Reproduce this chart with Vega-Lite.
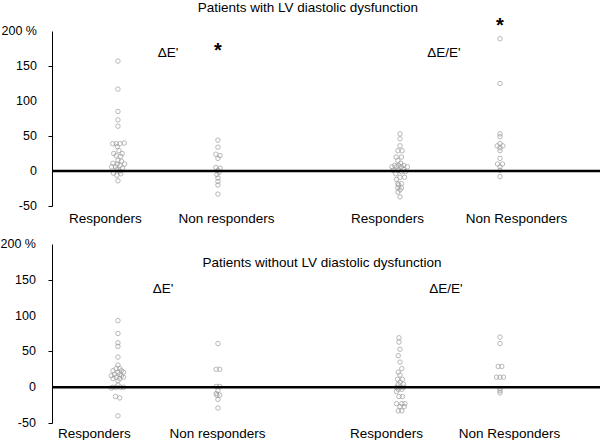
{
  "$schema": "https://vega.github.io/schema/vega-lite/v6.json",
  "padding": 0,
  "background": "white",
  "config": {
    "view": {"stroke": null},
    "font": "Liberation Sans",
    "axis": {"labelFont": "Liberation Sans", "grid": false},
    "text": {"font": "Liberation Sans"}
  },
  "datasets": {
    "ticks": [
      {"t": -50, "s": "-50"}, {"t": 0, "s": "0"}, {"t": 50, "s": "50"},
      {"t": 100, "s": "100"}, {"t": 150, "s": "150"}, {"t": 200, "s": "200 %"}
    ],
    "with_dE": [
      {"group": "Responders", "value": 157, "lane": 0}, {"group": "Responders", "value": 117, "lane": 0},
      {"group": "Responders", "value": 85, "lane": 0}, {"group": "Responders", "value": 73, "lane": 0},
      {"group": "Responders", "value": 64, "lane": 0}, {"group": "Responders", "value": 40, "lane": 1.8},
      {"group": "Responders", "value": 39, "lane": -1.5}, {"group": "Responders", "value": 39, "lane": -0.5},
      {"group": "Responders", "value": 39, "lane": 0.6}, {"group": "Responders", "value": 35, "lane": -0.2},
      {"group": "Responders", "value": 29, "lane": 0.3}, {"group": "Responders", "value": 25, "lane": -1.2},
      {"group": "Responders", "value": 25, "lane": 1.2}, {"group": "Responders", "value": 22, "lane": -0.5},
      {"group": "Responders", "value": 21, "lane": 0.8}, {"group": "Responders", "value": 15, "lane": 0},
      {"group": "Responders", "value": 14, "lane": 1}, {"group": "Responders", "value": 11, "lane": -1.4},
      {"group": "Responders", "value": 10, "lane": -0.2}, {"group": "Responders", "value": 10, "lane": 1.9},
      {"group": "Responders", "value": 8, "lane": 0.6}, {"group": "Responders", "value": 6, "lane": -1.8},
      {"group": "Responders", "value": 6, "lane": -0.7}, {"group": "Responders", "value": 4, "lane": 1.3},
      {"group": "Responders", "value": 2, "lane": -0.3}, {"group": "Responders", "value": 0, "lane": 0.5},
      {"group": "Responders", "value": -3, "lane": -1.3}, {"group": "Responders", "value": -4, "lane": 0.8},
      {"group": "Responders", "value": -6, "lane": -0.3}, {"group": "Responders", "value": -14, "lane": 0},
      {"group": "Non responders", "value": 44, "lane": 0}, {"group": "Non responders", "value": 34, "lane": 0},
      {"group": "Non responders", "value": 24, "lane": -0.6}, {"group": "Non responders", "value": 22, "lane": 0.6},
      {"group": "Non responders", "value": 18, "lane": 0}, {"group": "Non responders", "value": 5, "lane": -0.6},
      {"group": "Non responders", "value": 4, "lane": 0.6}, {"group": "Non responders", "value": 1, "lane": 0},
      {"group": "Non responders", "value": -2, "lane": 0.3}, {"group": "Non responders", "value": -5, "lane": -0.3},
      {"group": "Non responders", "value": -10, "lane": 0}, {"group": "Non responders", "value": -15, "lane": 0},
      {"group": "Non responders", "value": -20, "lane": 0}, {"group": "Non responders", "value": -33, "lane": 0}
    ],
    "with_dEE": [
      {"group": "Responders", "value": 53, "lane": 0}, {"group": "Responders", "value": 46, "lane": 0},
      {"group": "Responders", "value": 36, "lane": 0}, {"group": "Responders", "value": 29, "lane": -0.6},
      {"group": "Responders", "value": 29, "lane": 0.6}, {"group": "Responders", "value": 20, "lane": -1.1},
      {"group": "Responders", "value": 20, "lane": 0.4}, {"group": "Responders", "value": 15, "lane": -0.6},
      {"group": "Responders", "value": 11, "lane": 0.2}, {"group": "Responders", "value": 8, "lane": -1.5},
      {"group": "Responders", "value": 8, "lane": -0.4}, {"group": "Responders", "value": 8, "lane": 1.1},
      {"group": "Responders", "value": 6, "lane": -2.3}, {"group": "Responders", "value": 6, "lane": -1.0},
      {"group": "Responders", "value": 6, "lane": 0.4}, {"group": "Responders", "value": 6, "lane": 2.1},
      {"group": "Responders", "value": 3, "lane": 0.9}, {"group": "Responders", "value": 1, "lane": -2},
      {"group": "Responders", "value": 1, "lane": -0.6}, {"group": "Responders", "value": -1, "lane": 0.4},
      {"group": "Responders", "value": -1, "lane": 1.5}, {"group": "Responders", "value": -4, "lane": -1.2},
      {"group": "Responders", "value": -9, "lane": 0}, {"group": "Responders", "value": -9, "lane": 1.3},
      {"group": "Responders", "value": -12, "lane": -1}, {"group": "Responders", "value": -18, "lane": -0.6},
      {"group": "Responders", "value": -18, "lane": 0.4}, {"group": "Responders", "value": -20, "lane": -0.4},
      {"group": "Responders", "value": -24, "lane": 0.4}, {"group": "Responders", "value": -24, "lane": -0.6},
      {"group": "Responders", "value": -27, "lane": 0}, {"group": "Responders", "value": -30, "lane": -0.6},
      {"group": "Responders", "value": -37, "lane": 0},
      {"group": "Non Responders", "value": 189, "lane": 0}, {"group": "Non Responders", "value": 125, "lane": 0},
      {"group": "Non Responders", "value": 53, "lane": 0}, {"group": "Non Responders", "value": 49, "lane": 0},
      {"group": "Non Responders", "value": 39, "lane": 0}, {"group": "Non Responders", "value": 36, "lane": -0.8},
      {"group": "Non Responders", "value": 36, "lane": 0.8}, {"group": "Non Responders", "value": 33, "lane": 0},
      {"group": "Non Responders", "value": 29, "lane": 0}, {"group": "Non Responders", "value": 18, "lane": 0},
      {"group": "Non Responders", "value": 10, "lane": -0.7}, {"group": "Non Responders", "value": 10, "lane": 0.7},
      {"group": "Non Responders", "value": 6, "lane": 0}, {"group": "Non Responders", "value": 1, "lane": 0},
      {"group": "Non Responders", "value": -8, "lane": 0}
    ],
    "without_dE": [
      {"group": "Responders", "value": 93, "lane": 0}, {"group": "Responders", "value": 75, "lane": 0},
      {"group": "Responders", "value": 62, "lane": 0}, {"group": "Responders", "value": 57, "lane": 0},
      {"group": "Responders", "value": 42, "lane": 0}, {"group": "Responders", "value": 31, "lane": 0},
      {"group": "Responders", "value": 26, "lane": -0.5}, {"group": "Responders", "value": 26, "lane": 0.5},
      {"group": "Responders", "value": 23, "lane": -1.4}, {"group": "Responders", "value": 23, "lane": 1},
      {"group": "Responders", "value": 21, "lane": 0}, {"group": "Responders", "value": 21, "lane": 1.6},
      {"group": "Responders", "value": 18, "lane": -1}, {"group": "Responders", "value": 18, "lane": 0.5},
      {"group": "Responders", "value": 16, "lane": -1.9}, {"group": "Responders", "value": 16, "lane": 1},
      {"group": "Responders", "value": 14, "lane": -0.5}, {"group": "Responders", "value": 14, "lane": 1.6},
      {"group": "Responders", "value": 12, "lane": -1.4}, {"group": "Responders", "value": 12, "lane": 0.5},
      {"group": "Responders", "value": 9, "lane": 0}, {"group": "Responders", "value": 3, "lane": 0},
      {"group": "Responders", "value": 0, "lane": -1.4}, {"group": "Responders", "value": 0, "lane": -0.5},
      {"group": "Responders", "value": 0, "lane": 0.7}, {"group": "Responders", "value": 0, "lane": 1.6},
      {"group": "Responders", "value": -1, "lane": -1.9}, {"group": "Responders", "value": -13, "lane": -0.7},
      {"group": "Responders", "value": -15, "lane": 0.5}, {"group": "Responders", "value": -40, "lane": 0},
      {"group": "Non responders", "value": 61, "lane": 0}, {"group": "Non responders", "value": 25, "lane": -0.5},
      {"group": "Non responders", "value": 25, "lane": 0.5}, {"group": "Non responders", "value": 1, "lane": -0.5},
      {"group": "Non responders", "value": 1, "lane": 0.5}, {"group": "Non responders", "value": -5, "lane": 0},
      {"group": "Non responders", "value": -9, "lane": -0.5}, {"group": "Non responders", "value": -11, "lane": 0.5},
      {"group": "Non responders", "value": -11, "lane": -0.3}, {"group": "Non responders", "value": -17, "lane": 0},
      {"group": "Non responders", "value": -29, "lane": 0}
    ],
    "without_dEE": [
      {"group": "Responders", "value": 69, "lane": -0.3}, {"group": "Responders", "value": 63, "lane": -0.3},
      {"group": "Responders", "value": 53, "lane": 0}, {"group": "Responders", "value": 44, "lane": -0.5},
      {"group": "Responders", "value": 35, "lane": 0}, {"group": "Responders", "value": 26, "lane": 0.5},
      {"group": "Responders", "value": 21, "lane": -0.5}, {"group": "Responders", "value": 17, "lane": 0},
      {"group": "Responders", "value": 11, "lane": -0.7}, {"group": "Responders", "value": 11, "lane": 0.7},
      {"group": "Responders", "value": 7, "lane": 0}, {"group": "Responders", "value": 4, "lane": -0.5},
      {"group": "Responders", "value": 4, "lane": 1}, {"group": "Responders", "value": 0, "lane": -1},
      {"group": "Responders", "value": 0, "lane": 0}, {"group": "Responders", "value": 0, "lane": 1},
      {"group": "Responders", "value": -3, "lane": -0.5}, {"group": "Responders", "value": -3, "lane": 0.5},
      {"group": "Responders", "value": -6, "lane": -1}, {"group": "Responders", "value": -13, "lane": -0.3},
      {"group": "Responders", "value": -13, "lane": 0.7}, {"group": "Responders", "value": -23, "lane": -1},
      {"group": "Responders", "value": -23, "lane": 0.5}, {"group": "Responders", "value": -23, "lane": 1.4},
      {"group": "Responders", "value": -27, "lane": 0}, {"group": "Responders", "value": -27, "lane": 1.2},
      {"group": "Responders", "value": -33, "lane": -0.5}, {"group": "Responders", "value": -33, "lane": 0.5},
      {"group": "Non Responders", "value": 70, "lane": 0}, {"group": "Non Responders", "value": 61, "lane": 0},
      {"group": "Non Responders", "value": 29, "lane": -0.5}, {"group": "Non Responders", "value": 29, "lane": 0.5},
      {"group": "Non Responders", "value": 14, "lane": -1}, {"group": "Non Responders", "value": 14, "lane": 0},
      {"group": "Non Responders", "value": 14, "lane": 1}, {"group": "Non Responders", "value": -2, "lane": 0},
      {"group": "Non Responders", "value": -5, "lane": 0}, {"group": "Non Responders", "value": -8, "lane": 0}
    ]
  },
  "spacing": 13,
  "vconcat": [
    {
      "spacing": 0,
      "bounds": "flush",
      "hconcat": [
        {
          "width": 257, "height": 175,
          "layer": [
            {
              "data": {"name": "with_dE"},
              "mark": {"type": "point", "shape": "circle", "filled": false, "size": 20, "stroke": "#9a9a9a", "strokeWidth": 1},
              "encoding": {
                "x": {"field": "group", "type": "nominal", "scale": {"type": "point", "domain": ["Responders", "Non responders"], "padding": 0.785, "align": 0.42},
                      "axis": {"title": null, "domain": false, "ticks": false, "labelAngle": 0, "labelFontSize": 13.5, "labelColor": "black", "labelPadding": 5,
                               "labelOffset": {"condition": {"test": "datum.value == 'Responders'", "value": -13}, "value": 8}}},
                "xOffset": {"field": "lane", "type": "quantitative", "scale": {"domain": [-4, 4], "range": [-14, 14]}},
                "y": {"field": "value", "type": "quantitative", "scale": {"domain": [-50, 200], "nice": false, "zero": false},
                      "axis": {"title": null, "values": [-50, 0, 50, 100, 150, 200], "labels": false, "domainColor": "black", "tickColor": "black", "tickSize": 4, "minExtent": 51, "maxExtent": 51}}
              }
            },
            {"data": {"name": "ticks"}, "mark": {"type": "text", "align": "right", "baseline": "middle", "fontSize": 12.5, "color": "black", "dx": -81},
             "encoding": {"x": {"datum": "Responders", "type": "nominal"}, "y": {"field": "t", "type": "quantitative"}, "text": {"field": "s"}}},
            {"data": {"values": [{}]}, "mark": {"type": "rule", "color": "black", "strokeWidth": 2.5}, "encoding": {"y": {"datum": 0, "type": "quantitative"}}},
            {"data": {"values": [{}]}, "mark": {"type": "text", "text": "ΔE'", "fontSize": 13.5, "color": "black", "dx": -50},
             "encoding": {"x": {"datum": "Non responders", "type": "nominal"}, "y": {"datum": 169, "type": "quantitative"}}},
            {"data": {"values": [{}]}, "mark": {"type": "text", "text": "*", "fontSize": 20, "fontWeight": "bold", "color": "black", "baseline": "top"},
             "encoding": {"x": {"datum": "Non responders", "type": "nominal"}, "y": {"datum": 186, "type": "quantitative"}}},
            {"data": {"values": [{}]}, "mark": {"type": "text", "text": "Patients with LV diastolic dysfunction", "fontSize": 13.5, "color": "black", "dx": 90},
             "encoding": {"x": {"datum": "Non responders", "type": "nominal"}, "y": {"datum": 233, "type": "quantitative"}}}
          ]
        },
        {
          "width": 292, "height": 175,
          "layer": [
            {
              "data": {"name": "with_dEE"},
              "mark": {"type": "point", "shape": "circle", "filled": false, "size": 20, "stroke": "#9a9a9a", "strokeWidth": 1},
              "encoding": {
                "x": {"field": "group", "type": "nominal", "scale": {"type": "point", "domain": ["Responders", "Non Responders"], "padding": 0.96, "align": 0.474},
                      "axis": {"title": null, "domain": false, "ticks": false, "labelAngle": 0, "labelFontSize": 13.5, "labelColor": "black", "labelPadding": 5,
                               "labelOffset": {"condition": {"test": "datum.value == 'Responders'", "value": -13}, "value": 16}}},
                "xOffset": {"field": "lane", "type": "quantitative", "scale": {"domain": [-4, 4], "range": [-14, 14]}},
                "y": {"field": "value", "type": "quantitative", "scale": {"domain": [-50, 200], "nice": false, "zero": false}, "axis": null}
              }
            },
            {"data": {"values": [{}]}, "mark": {"type": "rule", "color": "black", "strokeWidth": 2.5}, "encoding": {"y": {"datum": 0, "type": "quantitative"}}},
            {"data": {"values": [{}]}, "mark": {"type": "text", "text": "ΔE/E'", "fontSize": 13.5, "color": "black", "dx": 44},
             "encoding": {"x": {"datum": "Responders", "type": "nominal"}, "y": {"datum": 169, "type": "quantitative"}}},
            {"data": {"values": [{}]}, "mark": {"type": "text", "text": "*", "fontSize": 20, "fontWeight": "bold", "color": "black", "baseline": "top"},
             "encoding": {"x": {"datum": "Non Responders", "type": "nominal"}, "y": {"datum": 222, "type": "quantitative"}}}
          ]
        }
      ]
    },
    {
      "spacing": 0,
      "bounds": "flush",
      "hconcat": [
        {
          "width": 257, "height": 179,
          "layer": [
            {
              "data": {"name": "without_dE"},
              "mark": {"type": "point", "shape": "circle", "filled": false, "size": 20, "stroke": "#9a9a9a", "strokeWidth": 1},
              "encoding": {
                "x": {"field": "group", "type": "nominal", "scale": {"type": "point", "domain": ["Responders", "Non responders"], "padding": 0.785, "align": 0.42},
                      "axis": {"title": null, "domain": false, "ticks": false, "labelAngle": 0, "labelFontSize": 13.5, "labelColor": "black", "labelPadding": 3,
                               "labelOffset": {"condition": {"test": "datum.value == 'Responders'", "value": -24}, "value": -1}}},
                "xOffset": {"field": "lane", "type": "quantitative", "scale": {"domain": [-4, 4], "range": [-14, 14]}},
                "y": {"field": "value", "type": "quantitative", "scale": {"domain": [-50, 200], "nice": false, "zero": false},
                      "axis": {"title": null, "values": [-50, 0, 50, 100, 150, 200], "labels": false, "domainColor": "black", "tickColor": "black", "tickSize": 4, "minExtent": 51, "maxExtent": 51}}
              }
            },
            {"data": {"name": "ticks"}, "mark": {"type": "text", "align": "right", "baseline": "middle", "fontSize": 12.5, "color": "black", "dx": -82},
             "encoding": {"x": {"datum": "Responders", "type": "nominal"}, "y": {"field": "t", "type": "quantitative"}, "text": {"field": "s"}}},
            {"data": {"values": [{}]}, "mark": {"type": "rule", "color": "black", "strokeWidth": 2.5}, "encoding": {"y": {"datum": 0, "type": "quantitative"}}},
            {"data": {"values": [{}]}, "mark": {"type": "text", "text": "ΔE'", "fontSize": 13.5, "color": "black", "dx": 45},
             "encoding": {"x": {"datum": "Responders", "type": "nominal"}, "y": {"datum": 137, "type": "quantitative"}}},
            {"data": {"values": [{}]}, "mark": {"type": "text", "text": "Patients without LV diastolic dysfunction", "fontSize": 13.5, "color": "black", "dx": 104},
             "encoding": {"x": {"datum": "Non responders", "type": "nominal"}, "y": {"datum": 174, "type": "quantitative"}}}
          ]
        },
        {
          "width": 292, "height": 179,
          "layer": [
            {
              "data": {"name": "without_dEE"},
              "mark": {"type": "point", "shape": "circle", "filled": false, "size": 20, "stroke": "#9a9a9a", "strokeWidth": 1},
              "encoding": {
                "x": {"field": "group", "type": "nominal", "scale": {"type": "point", "domain": ["Responders", "Non Responders"], "padding": 0.96, "align": 0.474},
                      "axis": {"title": null, "domain": false, "ticks": false, "labelAngle": 0, "labelFontSize": 13.5, "labelColor": "black", "labelPadding": 3,
                               "labelOffset": {"condition": {"test": "datum.value == 'Responders'", "value": -14}, "value": 9}}},
                "xOffset": {"field": "lane", "type": "quantitative", "scale": {"domain": [-4, 4], "range": [-14, 14]}},
                "y": {"field": "value", "type": "quantitative", "scale": {"domain": [-50, 200], "nice": false, "zero": false}, "axis": null}
              }
            },
            {"data": {"values": [{}]}, "mark": {"type": "rule", "color": "black", "strokeWidth": 2.5}, "encoding": {"y": {"datum": 0, "type": "quantitative"}}},
            {"data": {"values": [{}]}, "mark": {"type": "text", "text": "ΔE/E'", "fontSize": 13.5, "color": "black", "dx": 46},
             "encoding": {"x": {"datum": "Responders", "type": "nominal"}, "y": {"datum": 137, "type": "quantitative"}}}
          ]
        }
      ]
    }
  ]
}
